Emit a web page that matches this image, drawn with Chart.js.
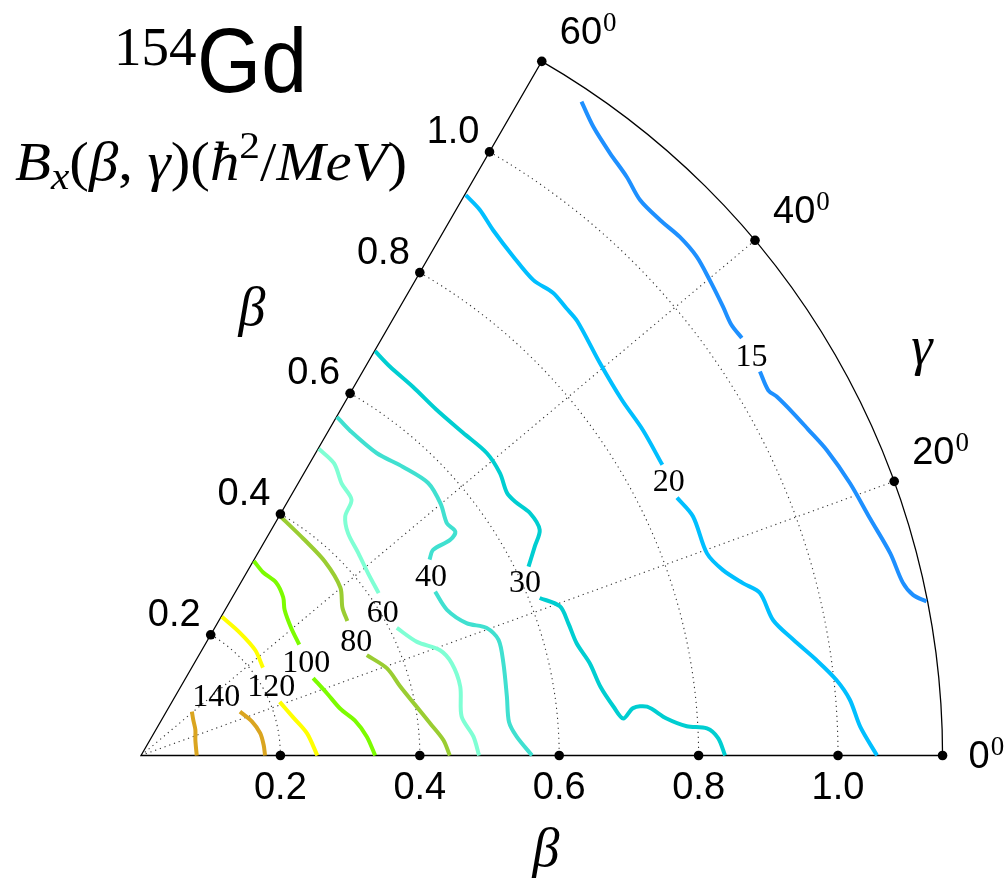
<!DOCTYPE html>
<html>
<head>
<meta charset="utf-8">
<script src="https://cdn.jsdelivr.net/npm/chart.js@4.4.0/dist/chart.umd.min.js"></script>
<style>
  html, body { margin: 0; padding: 0; background: #fff; }
  #wrap { width: 1008px; height: 882px; position: relative; }
</style>
</head>
<body>
<div id="wrap"><canvas id="bxChart"></canvas></div>
<script>
// B_x(beta, gamma) contour levels, hbar^2/MeV
const levels = [15, 20, 30, 40, 60, 80, 100, 120, 140];
const levelColors = ['#1e90ff', '#00bfff', '#00ced1', '#40e0d0', '#7fffd4', '#9acd32', '#7cfc00', '#ffff00', '#daa520'];

// contour paths, X = beta*cos(gamma), Y = beta*sin(gamma)
// null marks the gap where the level label sits
const c15x = [0.632, 0.649, 0.673, 0.697, 0.716, 0.745, 0.773, 0.797, 0.816, 0.835, 0.847, 0.862, null, 0.888, 0.900, 0.912, 0.936, 0.957, 0.984, 1.017, 1.046, 1.075, 1.093, 1.108, 1.127];
const c15y = [0.938, 0.902, 0.864, 0.830, 0.797, 0.768, 0.744, 0.716, 0.682, 0.644, 0.618, 0.599, null, 0.551, 0.524, 0.515, 0.491, 0.468, 0.438, 0.391, 0.340, 0.290, 0.248, 0.230, 0.221];
const c20x = [0.466, 0.486, 0.505, 0.534, 0.563, 0.591, 0.610, 0.626, 0.659, 0.690, 0.720, 0.748, null, 0.769, 0.792, 0.812, 0.835, 0.864, 0.888, 0.907, 0.936, 0.969, 0.998, 1.017, 1.032, 1.056];
const c20y = [0.804, 0.783, 0.754, 0.716, 0.682, 0.664, 0.642, 0.623, 0.562, 0.510, 0.467, 0.417, null, 0.370, 0.343, 0.290, 0.266, 0.247, 0.233, 0.194, 0.166, 0.137, 0.108, 0.080, 0.041, 0.000];
const c30x = [0.336, 0.357, 0.390, 0.424, 0.462, 0.496, 0.515, 0.525, 0.537, 0.558, 0.572, 0.565, 0.556, null, 0.572, 0.601, 0.613, 0.625, 0.644, 0.659, 0.678, 0.692, 0.706, 0.726, 0.754, 0.783, 0.812, 0.828, 0.838];
const c30y = [0.580, 0.558, 0.529, 0.496, 0.463, 0.434, 0.405, 0.377, 0.364, 0.348, 0.324, 0.300, 0.271, null, 0.226, 0.214, 0.190, 0.161, 0.132, 0.099, 0.070, 0.053, 0.068, 0.070, 0.053, 0.042, 0.039, 0.025, 0.000];
const c40x = [0.281, 0.300, 0.338, 0.376, 0.412, 0.430, 0.439, 0.451, 0.443, 0.419, 0.414, null, 0.422, 0.439, 0.467, 0.496, 0.513, 0.520, 0.525, 0.528, 0.539, 0.561];
const c40y = [0.486, 0.466, 0.434, 0.414, 0.391, 0.361, 0.333, 0.321, 0.309, 0.295, 0.281, null, 0.235, 0.209, 0.190, 0.183, 0.166, 0.132, 0.084, 0.048, 0.027, 0.000];
const c60x = [0.255, 0.277, 0.288, 0.302, 0.293, 0.297, 0.312, 0.326, 0.341, null, 0.367, 0.396, 0.429, 0.446, 0.458, 0.460, 0.477, 0.485];
const c60y = [0.440, 0.419, 0.390, 0.367, 0.343, 0.319, 0.290, 0.261, 0.233, null, 0.183, 0.163, 0.151, 0.132, 0.099, 0.056, 0.027, 0.000];
const c80x = [0.201, 0.233, 0.264, 0.286, 0.289, 0.296, null, 0.324, 0.353, 0.372, 0.393, 0.415, 0.434, 0.443];
const c80y = [0.342, 0.311, 0.278, 0.241, 0.212, 0.193, null, 0.144, 0.125, 0.099, 0.073, 0.046, 0.022, 0.000];
const c100x = [0.162, 0.175, 0.194, 0.204, 0.206, 0.215, 0.227, null, 0.247, 0.267, 0.286, 0.307, 0.324, 0.336];
const c100y = [0.279, 0.263, 0.248, 0.227, 0.209, 0.184, 0.159, null, 0.111, 0.089, 0.067, 0.050, 0.027, 0.000];
const c120x = [0.116, 0.142, 0.164, 0.175, null, 0.199, 0.218, 0.238, 0.253];
const c120y = [0.199, 0.176, 0.151, 0.126, null, 0.077, 0.055, 0.032, 0.000];
const c140x = [0.080, 0.078, 0.078, 0.075, 0.073, null, 0.142, 0.159, 0.171, 0.176, 0.178];
const c140y = [0.000, 0.022, 0.037, 0.051, 0.063, null, 0.063, 0.049, 0.032, 0.015, 0.000];

// where each level label is written (same X/Y plane)
const labelX = [0.876, 0.757, 0.551, 0.416, 0.347, 0.309, 0.237, 0.187, 0.108];
const labelY = [0.575, 0.395, 0.250, 0.259, 0.207, 0.166, 0.135, 0.101, 0.087];

// axes of the wedge
const betaTicks = [0.2, 0.4, 0.6, 0.8, 1.0];
const betaTickLabels = ['0.2', '0.4', '0.6', '0.8', '1.0'];
const betaMax = 1.15;
const gammaTicks = [0, 20, 40, 60];

const contourX = [c15x, c20x, c30x, c40x, c60x, c80x, c100x, c120x, c140x];
const contourY = [c15y, c20y, c30y, c40y, c60y, c80y, c100y, c120y, c140y];

const rad = d => d * Math.PI / 180;

// black dots on the frame
const tickDots = [];
betaTicks.forEach(b => {
    tickDots.push({ x: b, y: 0 });
    tickDots.push({ x: b * Math.cos(rad(60)), y: b * Math.sin(rad(60)) });
});
gammaTicks.forEach(g => tickDots.push({ x: betaMax * Math.cos(rad(g)), y: betaMax * Math.sin(rad(g)) }));

const datasets = [{
    data: tickDots,
    showLine: false,
    pointRadius: 4.8,
    pointBackgroundColor: '#000',
    pointBorderWidth: 0
}];
levels.forEach((lv, i) => {
    datasets.push({
        label: String(lv),
        data: contourX[i].map((x, j) => x === null ? { x: null, y: null } : { x: x, y: contourY[i][j] }),
        showLine: true,
        borderColor: levelColors[i],
        borderWidth: 4,
        pointRadius: 0,
        tension: 0.3,
        spanGaps: false
    });
});

const SERIF = '"Liberation Serif", "Times New Roman", serif';
const SANS = '"Liberation Sans", Arial, sans-serif';

// frame and dotted grid of the (beta, gamma) wedge
const wedgePlugin = {
    id: 'wedge',
    beforeDatasetsDraw(chart) {
        const { ctx, scales: { x, y } } = chart;
        const cx = x.getPixelForValue(0), cy = y.getPixelForValue(0);
        const unit = x.getPixelForValue(1) - cx;
        const R = betaMax * unit;
        ctx.save();
        ctx.setLineDash([1.2, 3.8]);
        ctx.lineWidth = 1.1;
        ctx.strokeStyle = '#333';
        betaTicks.forEach(b => {
            ctx.beginPath();
            ctx.arc(cx, cy, b * unit, -rad(60), 0);
            ctx.stroke();
        });
        gammaTicks.filter(g => g > 0 && g < 60).forEach(g => {
            ctx.beginPath();
            ctx.moveTo(cx, cy);
            ctx.lineTo(cx + R * Math.cos(rad(g)), cy - R * Math.sin(rad(g)));
            ctx.stroke();
        });
        ctx.setLineDash([]);
        ctx.lineWidth = 1.3;
        ctx.strokeStyle = '#000';
        ctx.beginPath();
        ctx.moveTo(cx + R, cy);
        ctx.lineTo(cx, cy);
        ctx.lineTo(cx + R * Math.cos(rad(60)), cy - R * Math.sin(rad(60)));
        ctx.arc(cx, cy, R, -rad(60), 0);
        ctx.stroke();
        ctx.restore();
    },
    afterDraw(chart) {
        const { ctx, scales: { x, y } } = chart;
        const cx = x.getPixelForValue(0), cy = y.getPixelForValue(0);
        const unit = x.getPixelForValue(1) - cx;
        ctx.save();
        ctx.fillStyle = '#000';
        ctx.textBaseline = 'alphabetic';

        // beta tick labels on both edges
        ctx.font = '38px ' + SANS;
        betaTicks.forEach((b, i) => {
            ctx.textAlign = 'right';
            ctx.fillText(betaTickLabels[i], cx + b * unit * Math.cos(rad(60)) - 10, cy - b * unit * Math.sin(rad(60)) - 9);
            ctx.textAlign = 'center';
            ctx.fillText(betaTickLabels[i], cx + b * unit, cy + 43);
        });

        // gamma labels with degree superscript
        gammaTicks.forEach(g => {
            const px = cx + betaMax * unit * Math.cos(rad(g));
            const py = cy - betaMax * unit * Math.sin(rad(g));
            const lx = g === 0 ? px + 26 : px + 18;
            const ly = g === 0 ? py + 12 : py - 17;
            ctx.textAlign = 'left';
            ctx.font = '38px ' + SANS;
            ctx.fillText(String(g), lx, ly);
            const w = ctx.measureText(String(g)).width;
            ctx.font = '27px ' + SERIF;
            ctx.fillText('0', lx + w + 1, ly - 13);
        });

        // contour level labels
        ctx.font = '32px ' + SERIF;
        ctx.textAlign = 'center';
        levels.forEach((lv, i) => {
            ctx.fillText(String(lv), x.getPixelForValue(labelX[i]), y.getPixelForValue(labelY[i]) + 11);
        });

        // axis symbols
        ctx.font = 'italic 54px ' + SERIF;
        ctx.textAlign = 'center';
        ctx.textBaseline = 'middle';
        ctx.fillText('\u03B2', 252, 311);
        ctx.fillText('\u03B2', 546, 852);
        ctx.fillText('\u03B3', 922, 350);

        // title
        ctx.textBaseline = 'alphabetic';
        ctx.textAlign = 'left';
        ctx.font = '55px ' + SERIF;
        ctx.fillText('154', 114, 65);
        ctx.font = '90px ' + SANS;
        const gw = ctx.measureText('Gd').width;
        ctx.save();
        ctx.translate(197, 92);
        ctx.scale(110 / gw, 1);
        ctx.fillText('Gd', 0, 0);
        ctx.restore();

        // B_x(beta,gamma)(hbar^2/MeV)
        const parts = [
            ['B', 'italic ', 1, 0], ['x', 'italic ', 0.7, 9], ['(', '', 1, 0], ['\u03B2', 'italic ', 1, 0],
            [', ', '', 1, 0], ['\u03B3', 'italic ', 1, 0], [')(', '', 1, 0], ['\u0127', 'italic ', 1, 0],
            ['2', '', 0.7, -22], ['/', '', 1, 0], ['MeV', 'italic ', 1, 0], [')', '', 1, 0]
        ];
        const fs = 54;
        let total = 0;
        parts.forEach(p => { ctx.font = p[1] + Math.round(fs * p[2]) + 'px ' + SERIF; total += ctx.measureText(p[0]).width; });
        ctx.save();
        ctx.translate(15, 180);
        ctx.scale(392 / total, 1);
        let xx = 0;
        parts.forEach(p => {
            ctx.font = p[1] + Math.round(fs * p[2]) + 'px ' + SERIF;
            ctx.fillText(p[0], xx, p[3]);
            xx += ctx.measureText(p[0]).width;
        });
        ctx.restore();
        ctx.restore();
    }
};

// pixel window: origin sits at (141, 755.5), 697 px per unit of beta
new Chart(document.getElementById('bxChart'), {
    type: 'scatter',
    data: { datasets: datasets },
    options: {
        responsive: true,
        maintainAspectRatio: false,
        animation: false,
        layout: { padding: 0, autoPadding: false },
        plugins: { legend: { display: false }, tooltip: { enabled: false } },
        scales: {
            x: { type: 'linear', display: false, min: -141 / 697, max: (1008 - 141) / 697 },
            y: { type: 'linear', display: false, min: -(882 - 755.5) / 697, max: 755.5 / 697 }
        }
    },
    plugins: [wedgePlugin]
});
</script>
</body>
</html>
